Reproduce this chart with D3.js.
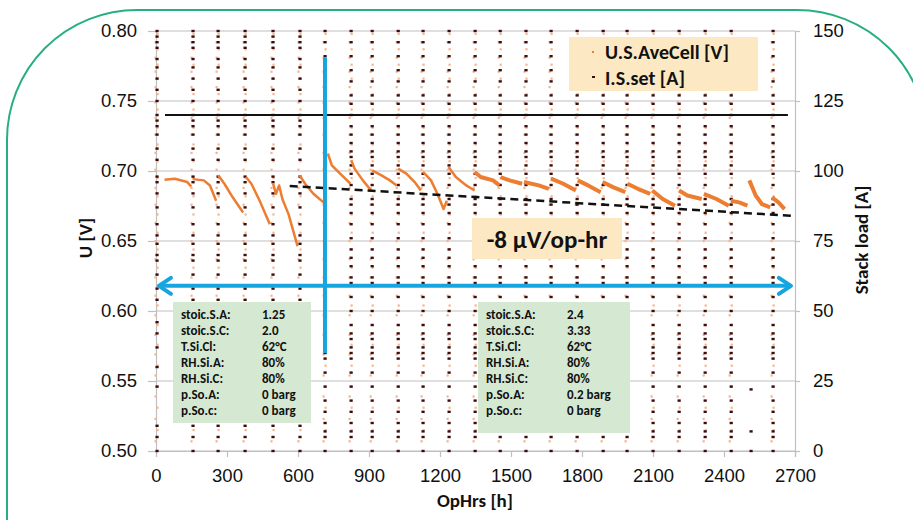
<!DOCTYPE html>
<html>
<head>
<meta charset="utf-8">
<script src="https://cdn.jsdelivr.net/npm/d3@7"></script>
<style>
  body { margin: 0; background: #fff; }
  svg { display: block; font-family: Carlito, Calibri, Lato, sans-serif; }
</style>
</head>
<body>
<svg id="chart" width="913" height="520"></svg>
<script>
// --- data ---
const xTicks = [0, 300, 600, 900, 1200, 1500, 1800, 2100, 2400, 2700];
const vTicks = [0.50, 0.55, 0.60, 0.65, 0.70, 0.75, 0.80];
const iTicks = [0, 25, 50, 75, 100, 125, 150];

// op hours of the polarization sweeps (vertical dot columns)
const sweepHours = [4, 156, 262, 376, 494, 608, 714, 824, 913, 1023, 1128, 1238,
  1348, 1454, 1563, 1669, 1779, 1889, 1990, 2100, 2210, 2320, 2430, 2607];
const sparseSweepHours = [2514];

// current set points [A] seen in a sweep column
const earlyCurrents = [150, 148, 146, 144, 140, 137, 133, 129, 125, 120, 118, 116, 113,
  108, 104, 98, 96, 92, 87, 81, 77, 74, 70, 68, 63, 58, 54, 46, 42, 37, 30, 23, 9, 5, 0];
const lateCurrents = [150, 146, 141, 136, 132, 127, 124, 120, 116, 113, 110, 107, 105,
  102, 99, 95, 90, 88, 85, 81, 76, 72, 69, 66, 62, 60, 55, 50, 45, 42, 40, 37, 35, 33,
  28, 23, 18, 14, 10, 7, 5, 0];
const sparseCurrents = [22, 7, 0];

// cell voltages [V] recorded during a sweep
const sweepVoltages = [0.798, 0.792, 0.787, 0.781, 0.776, 0.771, 0.766, 0.760, 0.755,
  0.749, 0.744, 0.738, 0.731, 0.726, 0.719, 0.713, 0.707, 0.701, 0.695, 0.688, 0.682,
  0.676, 0.669, 0.663, 0.656, 0.650, 0.644, 0.637, 0.631, 0.624, 0.618, 0.611, 0.604,
  0.597, 0.590, 0.583, 0.576, 0.569, 0.561, 0.554, 0.546, 0.539, 0.531, 0.523, 0.515, 0.507];

// U.S.AveCell between sweeps: [hour, V]
const voltageSegments = [
  [[36, 0.6937], [80, 0.6945], [132, 0.6921], [149, 0.6889]],
  [[155, 0.6942], [202, 0.6933], [228, 0.6897], [254, 0.6788]],
  [[263, 0.6969], [289, 0.6909], [324, 0.6812], [368, 0.6704]],
  [[380, 0.6957], [403, 0.6909], [438, 0.6788], [481, 0.6620]],
  [[495, 0.6909], [507, 0.6837], [520, 0.6897], [534, 0.6800], [560, 0.6692], [598, 0.6464]],
  [[607, 0.6969], [630, 0.6909], [665, 0.6837], [708, 0.6776]],
  [[726, 0.7125], [743, 0.7041], [778, 0.6981], [822, 0.6909]],
  [[825, 0.7077], [839, 0.7017], [874, 0.6933], [909, 0.6861]],
  [[913, 0.7005], [953, 0.6969], [988, 0.6933], [1017, 0.6897]],
  [[1023, 0.7017], [1058, 0.6981], [1093, 0.6921], [1119, 0.6861]],
  [[1128, 0.6993], [1162, 0.6933], [1189, 0.6837], [1215, 0.6728], [1229, 0.6788]],
  [[1236, 0.7029], [1267, 0.6957], [1311, 0.6897], [1346, 0.6861]],
  [[1346, 0.6993], [1372, 0.6957], [1424, 0.6933], [1451, 0.6897]],
  [[1456, 0.6957], [1494, 0.6933], [1547, 0.6909]],
  [[1555, 0.6921], [1617, 0.6897], [1660, 0.6873]],
  [[1669, 0.6945], [1721, 0.6909], [1774, 0.6861]],
  [[1782, 0.6933], [1826, 0.6897], [1879, 0.6849]],
  [[1887, 0.6921], [1931, 0.6885], [1983, 0.6849]],
  [[1992, 0.6909], [2036, 0.6873], [2088, 0.6837]],
  [[2097, 0.6861], [2141, 0.6800], [2193, 0.6752]],
  [[2210, 0.6861], [2245, 0.6825], [2306, 0.6800]],
  [[2315, 0.6837], [2368, 0.6800], [2420, 0.6752]],
  [[2429, 0.6788], [2464, 0.6776], [2499, 0.6752]],
  [[2507, 0.6933], [2534, 0.6825], [2560, 0.6764], [2595, 0.6740]],
  [[2603, 0.6812], [2630, 0.6776], [2656, 0.6728]]
];

const holdCurrent = 120;              // I.S.set between sweeps
const holdSpan = [38, 2670];
const trendLine = [[565, 0.6893], [2700, 0.6679]];
const splitHour = 714;                // change of operating conditions
const splitSpan = [0.570, 0.781];
const arrowVolt = 0.618;
const arrowSpan = [8, 2687];

const condLabels = ["stoic.S.A:", "stoic.S.C:", "T.Si.Cl:", "RH.Si.A:", "RH.Si.C:", "p.So.A:", "p.So.c:"];
const condBefore = ["1.25", "2.0", "62°C", "80%", "80%", "0 barg", "0 barg"];
const condAfter = ["2.4", "3.33", "62°C", "80%", "80%", "0.2 barg", "0 barg"];

// --- layout ---
const svg = d3.select("#chart");
const mLeft = 156, mRight = 795, mTop = 31, mBottom = 451;

const x = d3.scaleLinear().domain([0, 2700]).range([mLeft, mRight]);
const yV = d3.scaleLinear().domain([0.5, 0.8]).range([mBottom, mTop]);
const yI = d3.scaleLinear().domain([0, 150]).range([mBottom, mTop]);

const orange = "#ed7d31", orangeLight = "#f7b489", dark = "#3d0c0c", blue = "#17a5df";
const gray = "#bfbfbf";

// rounded green frame
svg.append("path")
  .attr("d", "M7,530 V140 A130,130 0 0 1 137,10 H797 A130,130 0 0 1 927,140 V530")
  .attr("fill", "none").attr("stroke", "#27b07e").attr("stroke-width", 2);

// grid
svg.append("g").selectAll("line").data(vTicks).join("line")
  .attr("x1", mLeft).attr("x2", mRight)
  .attr("y1", d => yV(d)).attr("y2", d => yV(d))
  .attr("stroke", gray).attr("stroke-width", 1.2);

// axes
let axisL = svg.append("g").attr("transform", `translate(${mLeft},0)`)
  .call(d3.axisLeft(yV).tickValues(vTicks).tickFormat(d3.format(".2f")).tickSize(8).tickPadding(11));
let axisR = svg.append("g").attr("transform", `translate(${mRight},0)`)
  .call(d3.axisRight(yI).tickValues(iTicks).tickSize(5).tickPadding(13));
let axisB = svg.append("g").attr("transform", `translate(0,${mBottom})`)
  .call(d3.axisBottom(x).tickValues(xTicks).tickFormat(d3.format("d")).tickSize(6).tickPadding(12));
[axisL, axisR, axisB].forEach(a => {
  a.selectAll("path, line").attr("stroke", gray).attr("stroke-width", 1.2);
  a.selectAll("text").attr("font-size", 18.5).attr("fill", "#111").attr("font-family", null);
});

// sweep columns: voltage dots then current dots
let plot = svg.append("g");
let vDots = [], iDots = [];
sweepHours.forEach(h => {
  sweepVoltages.forEach(v => vDots.push([h, v]));
  (h < splitHour ? earlyCurrents : lateCurrents).forEach(c => iDots.push([h, c]));
});
sparseSweepHours.forEach(h => sparseCurrents.forEach(c => iDots.push([h, c])));

plot.selectAll(".vd").data(vDots).join("rect").attr("class", "vd")
  .attr("x", (d, i) => x(d[0]) - (i % 2 ? 2.5 : 0.5)).attr("y", d => yV(d[1]) - 1)
  .attr("width", 2.2).attr("height", 2.2)
  .attr("fill", orangeLight);

plot.selectAll(".id").data(iDots).join("rect").attr("class", "id")
  .attr("x", d => x(d[0]) - 1.5).attr("y", d => yI(d[1]) - 1.2)
  .attr("width", 3.2).attr("height", 2.4)
  .attr("fill", dark);

// constant load line
plot.append("line")
  .attr("x1", x(holdSpan[0])).attr("x2", x(holdSpan[1]))
  .attr("y1", yI(holdCurrent)).attr("y2", yI(holdCurrent))
  .attr("stroke", "#111").attr("stroke-width", 2);

// voltage between sweeps
let line = d3.line().x(d => x(d[0])).y(d => yV(d[1]));
plot.selectAll(".seg").data(voltageSegments).join("path").attr("class", "seg")
  .attr("d", line).attr("fill", "none")
  .attr("stroke", orange).attr("stroke-width", (d, i) => i < 12 ? 2.5 : 4)
  .attr("stroke-linejoin", "round");

// degradation trend
plot.append("path").attr("d", line(trendLine))
  .attr("fill", "none").attr("stroke", "#111").attr("stroke-width", 2.5)
  .attr("stroke-dasharray", "8,5");

// blue markers
plot.append("line")
  .attr("x1", x(splitHour)).attr("x2", x(splitHour))
  .attr("y1", yV(splitSpan[1])).attr("y2", yV(splitSpan[0]))
  .attr("stroke", blue).attr("stroke-width", 4);

let ay = yV(arrowVolt), ax0 = x(arrowSpan[0]), ax1 = x(arrowSpan[1]);
plot.append("line").attr("x1", ax0 + 2).attr("x2", ax1 - 2).attr("y1", ay).attr("y2", ay)
  .attr("stroke", blue).attr("stroke-width", 4);
plot.append("path")
  .attr("d", `M${ax0 + 13},${ay - 8} L${ax0 + 1},${ay} L${ax0 + 13},${ay + 8} M${ax1 - 13},${ay - 8} L${ax1 - 1},${ay} L${ax1 - 13},${ay + 8}`)
  .attr("fill", "none").attr("stroke", blue).attr("stroke-width", 4)
  .attr("stroke-linecap", "round").attr("stroke-linejoin", "round");

// condition boxes
function condBox(x0, y0, w, h, values, valueX) {
  let g = svg.append("g");
  g.append("rect").attr("x", x0).attr("y", y0).attr("width", w).attr("height", h).attr("fill", "#d5e8d1");
  condLabels.forEach((t, i) => {
    g.append("text").attr("x", x0 + 8).attr("y", y0 + 17 + i * 16).text(t)
      .attr("font-size", 13).attr("font-weight", "bold").attr("fill", "#111");
    g.append("text").attr("x", valueX).attr("y", y0 + 17 + i * 16).text(values[i])
      .attr("font-size", 13).attr("font-weight", "bold").attr("fill", "#111");
  });
}
condBox(173, 302, 138, 121, condBefore, 262);
condBox(478, 302, 152, 131, condAfter, 567);

// slope label
svg.append("rect").attr("x", 472).attr("y", 218).attr("width", 150).attr("height", 41).attr("fill", "#fce9c3");
svg.append("text").attr("x", 547).attr("y", 248).attr("text-anchor", "middle")
  .attr("font-size", 25).attr("font-weight", "bold").attr("fill", "#111").text("-8 µV/op-hr");

// legend
let lg = svg.append("g");
lg.append("rect").attr("x", 569).attr("y", 37).attr("width", 189).attr("height", 54).attr("fill", "#fce9c3");
lg.append("rect").attr("x", 592).attr("y", 51).attr("width", 2).attr("height", 2).attr("fill", orange);
lg.append("rect").attr("x", 592).attr("y", 76).attr("width", 3).attr("height", 2).attr("fill", dark);
lg.append("text").attr("x", 605).attr("y", 59).text("U.S.AveCell [V]")
  .attr("font-size", 20).attr("font-weight", "bold").attr("fill", "#111");
lg.append("text").attr("x", 605).attr("y", 85).text("I.S.set [A]")
  .attr("font-size", 20).attr("font-weight", "bold").attr("fill", "#111");

// axis titles
svg.append("text").attr("x", 475).attr("y", 507).attr("text-anchor", "middle")
  .attr("font-size", 19).attr("font-weight", "bold").attr("fill", "#111").text("OpHrs [h]");
svg.append("text").attr("transform", "translate(92,238) rotate(-90)").attr("text-anchor", "middle")
  .attr("font-size", 19).attr("font-weight", "bold").attr("fill", "#111").text("U [V]");
svg.append("text").attr("transform", "translate(868,240) rotate(-90)").attr("text-anchor", "middle")
  .attr("font-size", 19).attr("font-weight", "bold").attr("fill", "#111").text("Stack load [A]");
</script>
</body>
</html>
